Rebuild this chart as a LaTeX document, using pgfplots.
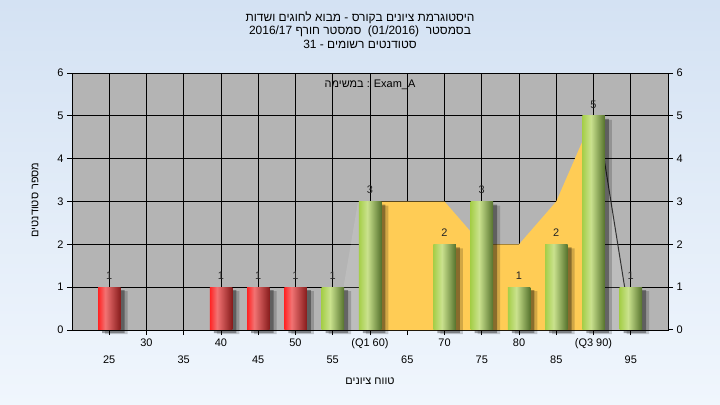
\documentclass[border=0pt]{standalone}
\usepackage{pgfplots}
\usepackage{pgfplotstable}
\pgfplotsset{compat=1.18}
\usepackage{fontspec}
\setmainfont{Liberation Sans}
\newfontfamily\hebfont[Script=Hebrew]{Liberation Sans}
\TeXXeTstate=1

\definecolor{bgtop}{HTML}{D4E2F3}
\definecolor{bgbot}{HTML}{F0F6FD}
\definecolor{plotbg}{HTML}{B4B4B4}
\definecolor{iqr}{HTML}{FFCC55}
\definecolor{redL}{RGB}{255,35,35}
\definecolor{redM}{RGB}{242,115,115}
\definecolor{redR}{RGB}{135,28,28}
\definecolor{grnL}{RGB}{165,206,72}
\definecolor{grnM}{RGB}{202,226,142}
\definecolor{grnR}{RGB}{86,115,45}

% cylinder-like shadings, the bar maps onto 25bp..75bp
\pgfdeclarehorizontalshading{cylred}{100bp}{color(0bp)=(redL); color(25bp)=(redL);
  color(41bp)=(redM); color(75bp)=(redR); color(100bp)=(redR)}
\pgfdeclarehorizontalshading{cylgrn}{100bp}{color(0bp)=(grnL); color(25bp)=(grnL);
  color(44bp)=(grnM); color(75bp)=(grnR); color(100bp)=(grnR)}

% students per score bin
\pgfplotstableread{
score count
25 1
40 1
45 1
50 1
55 1
60 3
70 2
75 3
80 1
85 2
90 5
95 1
}\counts

\tikzset{lbl/.style={font=\fontsize{11}{12}\selectfont}}
\pgfplotsset{
  cyl/.style={ybar, bar width=22.5bp, bar shift=0pt, draw=none},
  redbar/.style={cyl, shade, shading=cylred},
  grnbar/.style={cyl, shade, shading=cylgrn},
}

\begin{document}
\begin{tikzpicture}
\useasboundingbox (0,0) rectangle (720bp,405bp);
\shade[top color=bgtop, bottom color=bgbot] (0,0) rectangle (720bp,405bp);

\begin{axis}[
  at={(72bp,75bp)}, anchor=south west, scale only axis,
  width=596bp, height=257bp,
  xmin=20, xmax=100, ymin=0, ymax=6,
  axis background/.style={fill=plotbg},
  xtick={30,40,...,90},
  xticklabels={30,40,50,(Q1 60),70,80,(Q3 90)},
  extra x ticks={25,35,...,95},
  extra x tick style={grid=major, tick label style={yshift=-17bp}},
  ytick={0,...,6}, ytick pos=left, xtick pos=bottom,
  tick align=outside, major tick length=5bp,
  grid=major, grid style={black, line width=1bp},
  axis line style={black, line width=1bp},
  tick style={black, line width=1bp},
  tick label style={lbl},
  /pgf/number format/assume math mode=true,
  xlabel={\hebfont\beginR טווח ציונים\endR},
  ylabel={\hebfont\beginR מספר סטודנטים\endR},
  label style={lbl},
  xlabel style={at={(axis description cs:0.5,-0.198)}, anchor=center},
  ylabel style={at={(axis description cs:-0.062,0.506)}, anchor=center},
  clip=false,
]
% areas outside the quartiles
\addplot[draw=none, fill=white, fill opacity=0.13] coordinates {
  (55.5,0.03) (58.4,3) (60,3) (60,0.03)} \closedcycle;
\addplot[draw=none, fill=white, fill opacity=0.13] coordinates {
  (90,0.03) (90,5) (90.5,5) (95.1,0.03)} \closedcycle;
\addplot[black!80, line width=1bp] coordinates {(90.5,5) (95.1,0)};
% interquartile area
\addplot[draw=none, fill=iqr] coordinates {
  (60,0.03) (60,3) (65,3) (70,3) (75,2) (80,2) (85,3) (90,5) (90,0.03)} \closedcycle;

% soft shadows
\addplot[ybar, bar width=22.5bp, bar shift=7bp, yshift=-4bp, draw=none, fill=black, fill opacity=0.18]
  table[x=score, y=count] {\counts};
\addplot[ybar, bar width=22.5bp, bar shift=4bp, yshift=-3bp, draw=none, fill=black, fill opacity=0.35]
  table[x=score, y=count] {\counts};

\addplot[redbar] coordinates {(25,1)};
\addplot[redbar] coordinates {(40,1)};
\addplot[redbar] coordinates {(45,1)};
\addplot[redbar] coordinates {(50,1)};
\addplot[grnbar] coordinates {(55,1)};
\addplot[grnbar] coordinates {(60,3)};
\addplot[grnbar] coordinates {(70,2)};
\addplot[grnbar] coordinates {(75,3)};
\addplot[grnbar] coordinates {(80,1)};
\addplot[grnbar] coordinates {(85,2)};
\addplot[grnbar] coordinates {(90,5)};
\addplot[grnbar] coordinates {(95,1)};

% value labels
\addplot[draw=none, nodes near coords,
  nodes near coords style={lbl, text=black!85, anchor=south, yshift=4bp}]
  table[x=score, y=count] {\counts};

\node[lbl] at (axis cs:60,5.72) {{\hebfont\beginR במשימה\endR} : Exam\_A};
\end{axis}

\begin{axis}[
  at={(72bp,75bp)}, anchor=south west, scale only axis,
  width=596bp, height=257bp,
  xmin=20, xmax=100, ymin=0, ymax=6,
  axis x line=none, axis y line*=right,
  ytick={0,...,6}, tick align=outside, major tick length=5bp,
  axis line style={black, line width=1bp, -},
  tick style={black, line width=1bp},
  tick label style={lbl},
  /pgf/number format/assume math mode=true,
]
\addplot[draw=none] coordinates {(20,0)};
\end{axis}

\node[font=\fontsize{12}{14}\selectfont] at (360bp,387bp)
  {\hebfont\beginR היסטוגרמת ציונים בקורס - מבוא לחוגים ושדות\endR};
\node[font=\fontsize{12}{14}\selectfont] at (360bp,374bp)
  {\hebfont\beginR בסמסטר~ \beginL(01/2016)\endL{} ~סמסטר חורף \beginL2016/17\endL\endR};
\node[font=\fontsize{12}{14}\selectfont] at (360bp,361bp)
  {\hebfont\beginR סטודנטים רשומים - \beginL31\endL\endR};
\end{tikzpicture}
\end{document}
